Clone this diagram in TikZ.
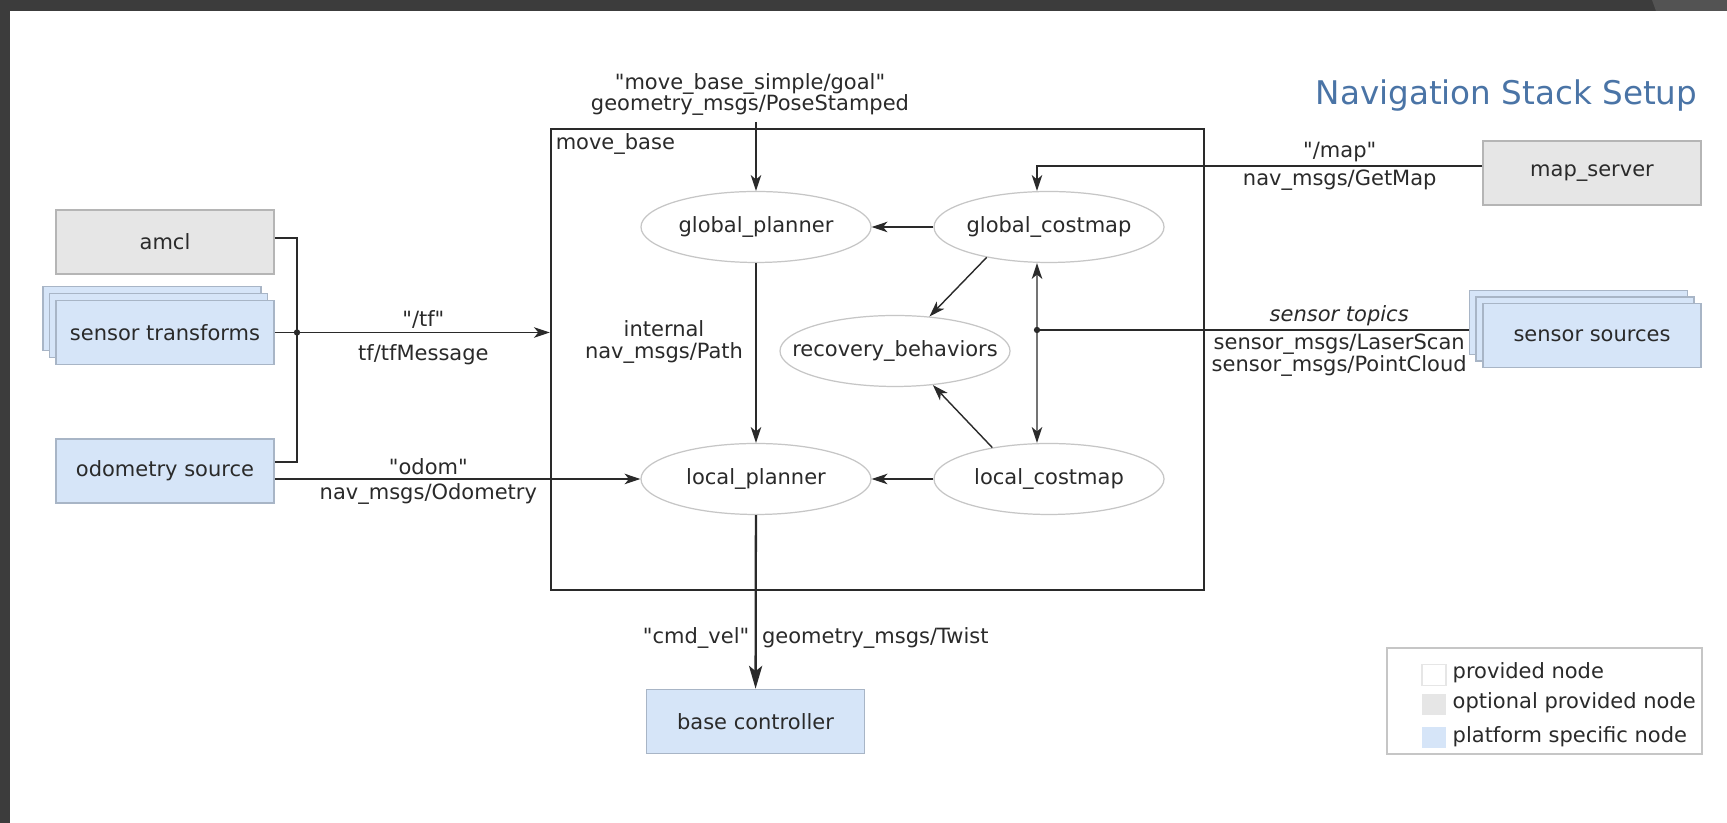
\documentclass[tikz,border=0pt]{standalone}
\usepackage{fontspec}
\setmainfont{DejaVu Sans}[Ligatures=TeXOff]
\usetikzlibrary{arrows.meta,shapes.geometric}

\definecolor{frame}{HTML}{3C3C3C}
\definecolor{ink}{HTML}{2A2A2A}
\definecolor{titleblue}{HTML}{4A74A6}
\definecolor{optfill}{HTML}{E6E6E6}
\definecolor{optdraw}{HTML}{B5B5B5}
\definecolor{platfill}{HTML}{D6E5F8}
\definecolor{platdraw}{HTML}{A8B5C6}
\definecolor{ovaldraw}{HTML}{C6C6C6}

\tikzset{
    optional/.style={rectangle, draw=optdraw, fill=optfill, line width=0.9pt, minimum width=4.36cm, minimum height=1.28cm},
    platform/.style={optional, draw=platdraw, fill=platfill},
    rosnode/.style={ellipse, draw=ovaldraw, fill=white, line width=0.7pt, minimum width=4.6cm, minimum height=1.42cm, inner xsep=-16pt, inner ysep=0pt},
    topic/.style={inner sep=2pt},
    legendkey/.style={rectangle, minimum width=0.48cm, minimum height=0.42cm, inner sep=0pt},
}

\begin{document}
\begin{tikzpicture}[font=\fontsize{11.95}{12.4}\selectfont, color=ink, line width=0.8pt, >={Stealth[length=9pt,width=6pt,inset=2.5pt]}]

    \useasboundingbox (0,0) rectangle (34.54,16.46);
    \fill[white] (0,0) rectangle (34.54,16.46);
    \fill[frame] (0,16.24) rectangle (34.54,16.46);
    \fill[frame] (0,0) rectangle (0.19,16.46);
    \fill[frame!88!white] (33.04,16.46) -- (34.54,16.46) -- (34.54,16.24) -- (33.12,16.24) -- cycle;

    \node[font=\fontsize{18.55}{20}\selectfont, text=titleblue, anchor=base east, inner sep=0pt] at (33.96,14.36) (title) {Navigation Stack Setup};

    \node[draw, line width=1.4pt, minimum width=13.06cm, minimum height=9.22cm] at (17.55,9.27) (move base) {};
    \node[anchor=north west, inner sep=3pt] at (move base.north west) (move base label) {move\_base};

    \node[rosnode] at (15.12,11.92) (global planner) {global\_planner};
    \node[rosnode] at (20.98,11.92) (global costmap) {global\_costmap};
    \node[rosnode] at (17.90,9.44) (recovery behaviors) {recovery\_behaviors};
    \node[rosnode] at (15.12,6.88) (local planner) {local\_planner};
    \node[rosnode] at (20.98,6.88) (local costmap) {local\_costmap};

    \node[optional] at (3.30,11.62) (amcl) {amcl};
    \node[platform] at (3.04,10.09) (sensor transforms back) {};
    \node[platform] at (3.17,9.95) (sensor transforms mid) {};
    \node[platform] at (3.30,9.81) (sensor transforms) {sensor transforms};
    \node[platform] at (3.30,7.04) (odometry source) {odometry source};
    \node[optional] at (31.84,13.00) (map server) {map\_server};
    \node[platform] at (31.57,10.01) (sensor sources back) {};
    \node[platform] at (31.70,9.88) (sensor sources mid) {};
    \node[platform] at (31.84,9.75) (sensor sources) {sensor sources};
    \node[platform] at (15.11,2.03) (base controller) {base controller};

    \node[align=center, inner sep=3pt] at (15.0,14.57) (goal topic) {"move\_base\_simple/goal"\\geometry\_msgs/PoseStamped};
    \draw[->] (goal topic.south -| global planner) -- (global planner);

    \draw[->] (global costmap) -- (global planner);
    \draw[->] (local costmap) -- (local planner);
    \draw[->] (global costmap.206) -- (recovery behaviors.45);
    \draw[->] (local costmap.151) -- (recovery behaviors.318);
    \draw[->] (global planner) -- node[left=7pt, align=center, pos=0.44, inner sep=0pt] {internal\\nav\_msgs/Path} (local planner);
    \draw[->, line width=1.3pt, >={Stealth[length=13pt,width=7.5pt,inset=3pt]}] (local planner) -- node[left, pos=0.71, inner sep=3pt] {"cmd\_vel"} node[right, pos=0.71, inner sep=3pt] {geometry\_msgs/Twist} (base controller);

    \coordinate (tf join) at (5.94,9.81);
    \draw ([yshift=0.08cm]amcl.east) -| (tf join);
    \draw ([yshift=0.18cm]odometry source.east) -| (tf join);
    \draw (sensor transforms) -- (tf join);
    \draw[->] (tf join) -- node[above, topic] {"/tf"} node[below=4.5pt, topic] {tf/tfMessage} (tf join -| move base.west);
    \fill (tf join) circle (1.8pt);

    \draw[->] (odometry source.east |- local planner) -- node[above, topic, pos=0.42] {"odom"} node[below, topic, pos=0.42] {nav\_msgs/Odometry} (local planner);

    \draw[->] ([yshift=0.14cm]map server.west) -| node[above, topic, pos=0.16] {"/map"} node[below, topic, pos=0.16] {nav\_msgs/GetMap} ([xshift=-0.24cm]global costmap.north);

    \coordinate (sensor join) at (20.74,9.86);
    \draw (sensor sources back.west |- sensor join) -- node[above, topic, pos=0.30] {\itshape sensor topics} node[below, topic, pos=0.30, align=center] {sensor\_msgs/LaserScan\\sensor\_msgs/PointCloud} (sensor join);
    \draw[->] (sensor join) -- ([xshift=-0.24cm]global costmap.south);
    \draw[->] (sensor join) -- ([xshift=-0.24cm]local costmap.north);
    \fill (sensor join) circle (1.8pt);

    \node[draw=ovaldraw, line width=0.8pt, minimum width=6.3cm, minimum height=2.12cm] at (30.89,2.44) (legend) {};
    \node[legendkey, draw=optfill, line width=0.6pt, fill=white] at (28.68,2.96) (key provided) {};
    \node[legendkey, fill=optfill] at (28.68,2.36) (key optional) {};
    \node[legendkey, fill=platfill] at (28.68,1.71) (key platform) {};
    \node[anchor=west, inner sep=0pt] at (29.04,3.00) (legend provided) {provided node};
    \node[anchor=west, inner sep=0pt] at (29.04,2.40) (legend optional) {optional provided node};
    \node[anchor=west, inner sep=0pt] at (29.04,1.72) (legend platform) {platform specific node};

\end{tikzpicture}
\end{document}
